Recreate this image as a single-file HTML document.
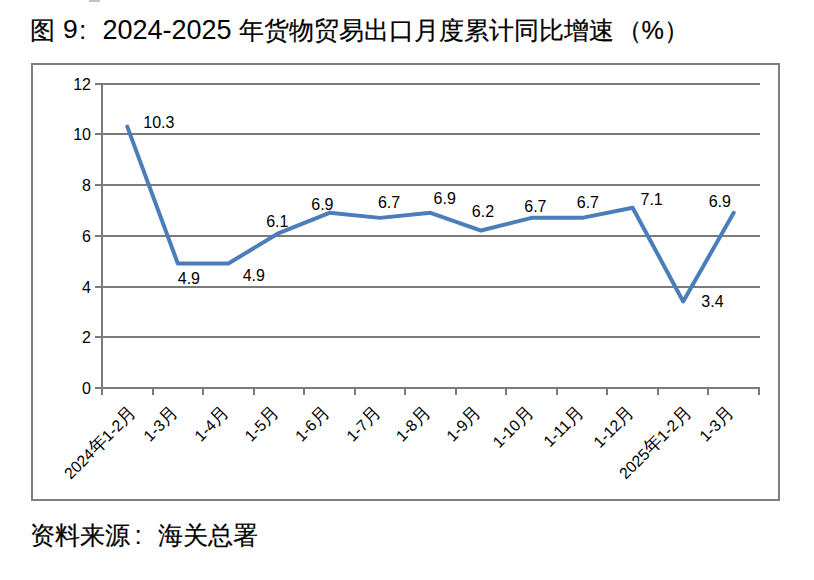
<!DOCTYPE html>
<html><head><meta charset="utf-8"><style>
html,body{margin:0;padding:0;background:#fff;}
body{width:814px;height:580px;position:relative;overflow:hidden;font-family:"Liberation Sans",sans-serif;color:#000;}
#box{position:absolute;left:31px;top:63px;width:749px;height:438px;box-sizing:border-box;border:2px solid #7f7f7f;}
svg{position:absolute;left:0;top:0;}
text{fill:#000;}
.n{font-size:16px;}
.c{font-size:15.8px;}
.cj{font-size:18px;}
</style></head><body>
<div id="box"></div>
<div style="position:absolute;left:89px;top:0;width:11px;height:2px;background:#c4c4c4"></div>
<svg width="814" height="580" viewBox="0 0 814 580" font-family="Liberation Sans, sans-serif">
<line x1="95" y1="388.00" x2="760" y2="388.00" stroke="#7a7a7a" stroke-width="2"/>
<line x1="95" y1="337.00" x2="760" y2="337.00" stroke="#7a7a7a" stroke-width="2"/>
<line x1="95" y1="287.00" x2="760" y2="287.00" stroke="#7a7a7a" stroke-width="2"/>
<line x1="95" y1="236.00" x2="760" y2="236.00" stroke="#7a7a7a" stroke-width="2"/>
<line x1="95" y1="185.00" x2="760" y2="185.00" stroke="#7a7a7a" stroke-width="2"/>
<line x1="95" y1="134.00" x2="760" y2="134.00" stroke="#7a7a7a" stroke-width="2"/>
<line x1="95" y1="84.00" x2="760" y2="84.00" stroke="#7a7a7a" stroke-width="2"/>
<line x1="102.0" y1="83" x2="102.0" y2="395" stroke="#7a7a7a" stroke-width="2"/>
<line x1="102.00" y1="388" x2="102.00" y2="395" stroke="#7a7a7a" stroke-width="2"/>
<line x1="153.00" y1="388" x2="153.00" y2="395" stroke="#7a7a7a" stroke-width="2"/>
<line x1="203.00" y1="388" x2="203.00" y2="395" stroke="#7a7a7a" stroke-width="2"/>
<line x1="254.00" y1="388" x2="254.00" y2="395" stroke="#7a7a7a" stroke-width="2"/>
<line x1="304.00" y1="388" x2="304.00" y2="395" stroke="#7a7a7a" stroke-width="2"/>
<line x1="355.00" y1="388" x2="355.00" y2="395" stroke="#7a7a7a" stroke-width="2"/>
<line x1="405.00" y1="388" x2="405.00" y2="395" stroke="#7a7a7a" stroke-width="2"/>
<line x1="456.00" y1="388" x2="456.00" y2="395" stroke="#7a7a7a" stroke-width="2"/>
<line x1="506.00" y1="388" x2="506.00" y2="395" stroke="#7a7a7a" stroke-width="2"/>
<line x1="557.00" y1="388" x2="557.00" y2="395" stroke="#7a7a7a" stroke-width="2"/>
<line x1="607.00" y1="388" x2="607.00" y2="395" stroke="#7a7a7a" stroke-width="2"/>
<line x1="658.00" y1="388" x2="658.00" y2="395" stroke="#7a7a7a" stroke-width="2"/>
<line x1="708.00" y1="388" x2="708.00" y2="395" stroke="#7a7a7a" stroke-width="2"/>
<line x1="759.00" y1="388" x2="759.00" y2="395" stroke="#7a7a7a" stroke-width="2"/>
<polyline points="127.27,127.07 177.81,263.87 228.35,263.87 278.88,233.47 329.42,213.20 379.96,218.27 430.50,213.20 481.04,230.93 531.58,218.27 582.12,218.27 632.65,208.13 683.19,301.87 733.73,213.20" fill="none" stroke="#4a7dba" stroke-width="4" transform="translate(0,-0.4)" stroke-linejoin="round" stroke-linecap="round"/>
<text x="91.00" y="394.00" text-anchor="end" class="n">0</text>
<text x="91.00" y="342.67" text-anchor="end" class="n">2</text>
<text x="91.00" y="293.33" text-anchor="end" class="n">4</text>
<text x="91.00" y="242.00" text-anchor="end" class="n">6</text>
<text x="91.00" y="190.67" text-anchor="end" class="n">8</text>
<text x="91.00" y="140.33" text-anchor="end" class="n">10</text>
<text x="91.00" y="90.00" text-anchor="end" class="n">12</text>
<text x="143.32" y="127.80" class="n">10.3</text>
<text x="177.75" y="284.45" class="n">4.9</text>
<text x="242.70" y="280.80" class="n">4.9</text>
<text x="266.15" y="226.80" class="n">6.1</text>
<text x="311.25" y="209.50" class="n">6.9</text>
<text x="377.90" y="207.75" class="n">6.7</text>
<text x="433.55" y="204.40" class="n">6.9</text>
<text x="471.85" y="217.40" class="n">6.2</text>
<text x="524.25" y="211.85" class="n">6.7</text>
<text x="576.75" y="207.75" class="n">6.7</text>
<text x="640.50" y="205.15" class="n">7.1</text>
<text x="701.35" y="306.95" class="n">3.4</text>
<text x="708.65" y="206.60" class="n">6.9</text>
<text transform="translate(137.19,413.60) rotate(-45)" text-anchor="end" class="c">2024<tspan class="cj">年</tspan>1-2<tspan class="cj">月</tspan></text>
<text transform="translate(178.93,413.60) rotate(-45)" text-anchor="end" class="c">1-3<tspan class="cj">月</tspan></text>
<text transform="translate(229.95,413.60) rotate(-45)" text-anchor="end" class="c">1-4<tspan class="cj">月</tspan></text>
<text transform="translate(280.16,413.60) rotate(-45)" text-anchor="end" class="c">1-5<tspan class="cj">月</tspan></text>
<text transform="translate(330.54,413.60) rotate(-45)" text-anchor="end" class="c">1-6<tspan class="cj">月</tspan></text>
<text transform="translate(381.88,413.60) rotate(-45)" text-anchor="end" class="c">1-7<tspan class="cj">月</tspan></text>
<text transform="translate(431.30,413.60) rotate(-45)" text-anchor="end" class="c">1-8<tspan class="cj">月</tspan></text>
<text transform="translate(481.84,413.60) rotate(-45)" text-anchor="end" class="c">1-9<tspan class="cj">月</tspan></text>
<text transform="translate(534.46,413.60) rotate(-45)" text-anchor="end" class="c">1-10<tspan class="cj">月</tspan></text>
<text transform="translate(584.36,413.60) rotate(-45)" text-anchor="end" class="c">1-11<tspan class="cj">月</tspan></text>
<text transform="translate(635.21,413.60) rotate(-45)" text-anchor="end" class="c">1-12<tspan class="cj">月</tspan></text>
<text transform="translate(692.31,413.60) rotate(-45)" text-anchor="end" class="c">2025<tspan class="cj">年</tspan>1-2<tspan class="cj">月</tspan></text>
<text transform="translate(734.85,413.60) rotate(-45)" text-anchor="end" class="c">1-3<tspan class="cj">月</tspan></text>
<text x="30.20" y="38.80" style="font-size:25.2px;stroke:#000;stroke-width:0.2px">图</text>
<text x="63.00" y="38.30" style="font-size:26.5px;stroke:#000;stroke-width:0px">9</text>
<text x="79.00" y="38.80" style="font-size:26.5px;stroke:#000;stroke-width:0px">:</text>
<text x="102.50" y="38.80" style="font-size:27px;stroke:#000;stroke-width:0px">2024-2025</text>
<text x="238.50" y="38.50" style="font-size:25.2px;stroke:#000;stroke-width:0.2px">年货物贸易出口月度累计同比增速</text>
<text x="616.50" y="38.50" style="font-size:25.2px;stroke:#000;stroke-width:0.2px">（%）</text>
<text x="30.00" y="544.00" style="font-size:25.2px;stroke:#000;stroke-width:0.2px">资料来源</text>
<text x="134.50" y="544.00" style="font-size:26.5px;stroke:#000;stroke-width:0px">:</text>
<text x="157.80" y="544.00" style="font-size:25.2px;stroke:#000;stroke-width:0.2px">海关总署</text>
</svg>
</body></html>
